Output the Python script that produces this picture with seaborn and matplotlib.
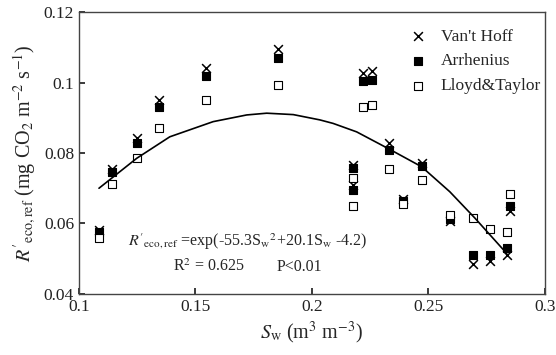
import matplotlib
matplotlib.use("Agg")
import matplotlib.pyplot as plt
import matplotlib.ticker as mticker
import pandas as pd
import seaborn as sns

# soil water content (m3 m-3) of each measurement
sw = [0.1087, 0.1143, 0.125, 0.1343, 0.1545, 0.1855, 0.2177, 0.2177, 0.222,
      0.2259, 0.2332, 0.2392, 0.2471, 0.2592, 0.2692, 0.2764, 0.2836, 0.285]
vant_hoff = [0.0582, 0.0755, 0.0843, 0.095, 0.104, 0.1095, 0.0766, 0.0709, 0.1027,
             0.1033, 0.0827, 0.0669, 0.0771, 0.0608, 0.0484, 0.0494, 0.0511, 0.0636]
arrhenius = [0.0577, 0.0747, 0.0829, 0.093, 0.1018, 0.1069, 0.0757, 0.0695, 0.1004,
             0.1007, 0.0808, 0.0665, 0.0764, 0.0612, 0.0511, 0.0511, 0.053, 0.065]
lloyd_taylor = [0.0558, 0.0712, 0.0787, 0.0872, 0.095, 0.0993, 0.0728, 0.065, 0.093,
                0.0935, 0.0754, 0.0654, 0.0723, 0.0624, 0.0615, 0.0584, 0.0576, 0.0684]

# fitted curve
fit_sw = [0.1086, 0.1248, 0.139, 0.1576, 0.172, 0.1806, 0.192, 0.2034, 0.2091,
          0.2192, 0.2335, 0.2471, 0.2592, 0.27, 0.2836]
fit_r = [0.070, 0.0785, 0.0846, 0.0889, 0.0908, 0.0913, 0.0909, 0.0894, 0.0884,
         0.086, 0.081, 0.0761, 0.069, 0.0615, 0.0515]

x_ticks = [0.1, 0.15, 0.2, 0.25, 0.3]
y_ticks = [0.04, 0.06, 0.08, 0.1, 0.12]

sns.set_theme(style="ticks")
plt.rcParams["font.family"] = ["Liberation Serif", "DejaVu Serif"]
plt.rcParams["mathtext.fontset"] = "stix"

df = pd.DataFrame({"sw": sw, "vh": vant_hoff, "arr": arrhenius, "lt": lloyd_taylor})
fit = pd.DataFrame({"sw": fit_sw, "r": fit_r})

fig, ax = plt.subplots(figsize=(5.56, 3.55), dpi=100)
fig.subplots_adjust(left=0.142, right=0.980, bottom=0.172, top=0.966)

sns.lineplot(data=fit, x="sw", y="r", color="black", lw=1.2, sort=False,
             legend=False, ax=ax)
sns.scatterplot(data=df, x="sw", y="vh", marker="x", color="black", s=40,
                linewidth=1.1, label="Van't Hoff", ax=ax)
sns.scatterplot(data=df, x="sw", y="arr", marker="s", color="black",
                edgecolor="black", s=30, linewidth=0.8, label="Arrhenius", ax=ax)
sns.scatterplot(data=df, x="sw", y="lt", marker="s", color="white",
                edgecolor="black", s=30, linewidth=0.8, label="Lloyd&Taylor", ax=ax)

ax.set_xlim(0.1, 0.3)
ax.set_ylim(0.04, 0.12)
ax.set_xticks(x_ticks)
ax.set_yticks(y_ticks)
fmt = mticker.FuncFormatter(lambda v, _: f"{v:g}")
ax.xaxis.set_major_formatter(fmt)
ax.yaxis.set_major_formatter(fmt)
ax.tick_params(direction="in", labelsize=12.5, length=4, colors="#222222")
for sp in ax.spines.values():
    sp.set_color("#444444")
    sp.set_linewidth(1.0)

ax.set_xlabel(r"$S_{\rm w}$ (m$^3$ m$^{-3}$)", fontsize=14.5)
ax.set_ylabel(r"$R'_{\rm eco,ref}$ (mg CO$_2$ m$^{-2}$ s$^{-1}$)", fontsize=14.5)

ax.text(0.1212, 0.0548,
        r"$R'_{\rm eco,ref}$ =exp(-55.3S$_{\rm w}$$^2$+20.1S$_{\rm w}$ -4.2)",
        ha="left", va="center", fontsize=11.5)
ax.text(0.1403, 0.0477, r"R$^2$ = 0.625", ha="left", va="center", fontsize=11.5)
ax.text(0.185, 0.0477, "P<0.01", ha="left", va="center", fontsize=11.5)

leg = ax.legend(loc="upper left", bbox_to_anchor=(0.665, 0.985), frameon=False,
                fontsize=12.5, handletextpad=0.3, labelspacing=0.5, borderaxespad=0.3)

fig.savefig("out.png", dpi=100)
